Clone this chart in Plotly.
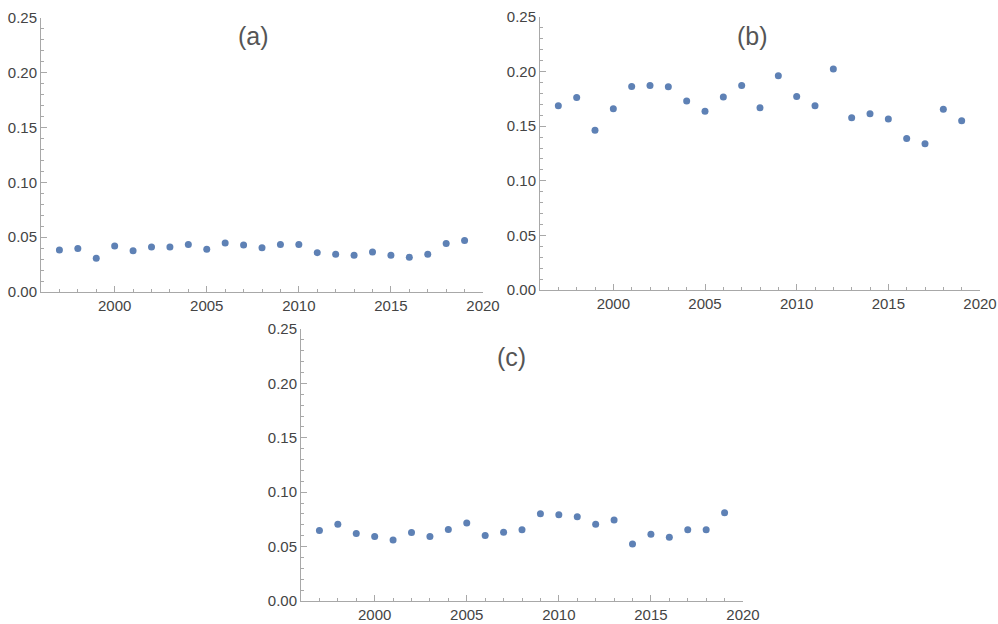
import plotly.graph_objects as go

years = list(range(1997, 2020))

values_a = [0.0383, 0.0398, 0.0308, 0.0419, 0.0377, 0.0410, 0.0410, 0.0434, 0.0389,
            0.0446, 0.0428, 0.0404, 0.0434, 0.0434, 0.0359, 0.0344, 0.0335, 0.0365,
            0.0335, 0.0317, 0.0344, 0.0443, 0.0470]

values_b = [0.1687, 0.1763, 0.1464, 0.1660, 0.1864, 0.1873, 0.1861, 0.1730, 0.1638,
            0.1767, 0.1873, 0.1669, 0.1962, 0.1773, 0.1687, 0.2023, 0.1577, 0.1614,
            0.1565, 0.1388, 0.1339, 0.1656, 0.1550]

values_c = [0.0648, 0.0705, 0.0620, 0.0593, 0.0560, 0.0630, 0.0593, 0.0657, 0.0717,
            0.0602, 0.0633, 0.0654, 0.0801, 0.0792, 0.0774, 0.0705, 0.0744, 0.0524,
            0.0614, 0.0587, 0.0654, 0.0654, 0.0810]

panel_labels = ["(a)", "(b)", "(c)"]

W, H = 998, 624
marker_color = "#5e81b5"
axis_color = "#a8a8a8"
label_color = "#555555"
tick_font = dict(family="Liberation Sans, Arial, sans-serif", size=15, color="#444444")

# pixel geometry of each panel: (x_left, x_right, y_top(0.25), y_bottom(0))
geoms = [(41, 483, 18, 292), (540, 980, 17, 290), (301, 743, 329, 601)]
label_pos = [(254, 36), (752, 36), (512, 357)]
series = [values_a, values_b, values_c]

fig = go.Figure()

for i, (vals, g) in enumerate(zip(series, geoms)):
    n = "" if i == 0 else str(i + 1)
    fig.add_trace(go.Scatter(
        x=years, y=vals, mode="markers",
        marker=dict(color=marker_color, size=7, line=dict(width=0)),
        xaxis="x" + n, yaxis="y" + n, showlegend=False,
    ))
    xl, xr, yt, yb = g
    xaxis = dict(
        domain=[xl / W, xr / W], range=[1996, 2020], anchor="y" + n,
        automargin=False,
        showline=True, linecolor=axis_color, linewidth=1,
        showgrid=False, zeroline=False,
        tick0=2000, dtick=5, ticks="inside", ticklen=6, tickcolor=axis_color,
        tickfont=tick_font,
        minor=dict(dtick=1, tick0=2000, ticks="inside", ticklen=3, tickcolor=axis_color, showgrid=False),
    )
    yaxis = dict(
        domain=[1 - yb / H, 1 - yt / H], range=[0, 0.25], anchor="x" + n,
        automargin=False,
        showline=True, linecolor=axis_color, linewidth=1,
        showgrid=False, zeroline=False,
        tick0=0, dtick=0.05, tickformat=".2f", ticks="inside", ticklen=6, tickcolor=axis_color,
        tickfont=tick_font,
        minor=dict(dtick=0.01, tick0=0, ticks="inside", ticklen=3, tickcolor=axis_color, showgrid=False),
    )
    fig.update_layout(**{"xaxis" + n: xaxis, "yaxis" + n: yaxis})
    lx, ly = label_pos[i]
    fig.add_annotation(
        x=lx / W, y=1 - ly / H, xref="paper", yref="paper",
        text=panel_labels[i], showarrow=False,
        font=dict(family="Liberation Sans, Arial, sans-serif", size=25, color=label_color),
        xanchor="center", yanchor="middle",
    )

fig.update_layout(
    width=W, height=H, margin=dict(l=0, r=0, t=0, b=0),
    paper_bgcolor="white", plot_bgcolor="white",
)

fig.write_html("out.html")
